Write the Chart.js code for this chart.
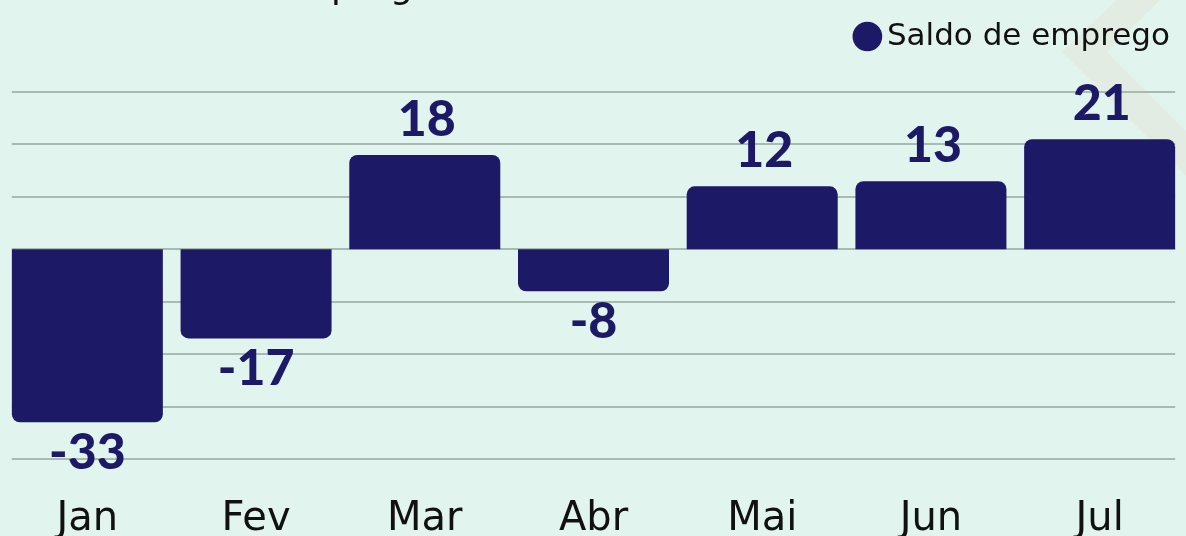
<!DOCTYPE html>
<html>
<head>
<meta charset="utf-8">
<script src="https://cdn.jsdelivr.net/npm/chart.js@4.4.1/dist/chart.umd.min.js"></script>
<style>
  html, body { margin: 0; padding: 0; background: #e1f4ee; }
  #wrap { width: 1186px; height: 536px; position: relative; }
</style>
</head>
<body>
<div id="wrap"><canvas id="c" width="1186" height="536"></canvas></div>
<script>
const categories = ["Jan", "Fev", "Mar", "Abr", "Mai", "Jun", "Jul"];
const saldo = [-33, -17, 18, -8, 12, 13, 21];
const seriesName = "Saldo de emprego";
const titleText = "Saldo de emprego";

const BAR = "#1c1a66";
const BG = "#e1f4ee";
const GRID = "#a9bab2";
const TEXT_FONT = "'DejaVu Sans'";

const bgPlugin = {
  id: "bg",
  beforeDraw(chart) {
    const ctx = chart.ctx;
    ctx.save();
    ctx.fillStyle = BG;
    ctx.fillRect(0, 0, chart.width, chart.height);
    // decorative chevron
    ctx.fillStyle = "#e3ece2";
    ctx.beginPath();
    ctx.moveTo(1117, 0);
    ctx.lineTo(1160, 0);
    ctx.lineTo(1107, 52);
    ctx.lineTo(1186, 131);
    ctx.lineTo(1186, 176);
    ctx.lineTo(1062, 52);
    ctx.closePath();
    ctx.fill();
    // title (cut off at the top)
    ctx.fillStyle = "#111";
    ctx.font = "400 36px " + TEXT_FONT;
    ctx.textBaseline = "alphabetic";
    const pre = ctx.measureText("Saldo de em").width;
    ctx.fillText(titleText, 331 - pre, -2);
    ctx.restore();
  }
};

// extra space between legend and plot area
const legendGap = {
  id: "legendGap",
  beforeInit(chart) {
    const origFit = chart.legend.fit;
    chart.legend.fit = function () {
      origFit.bind(chart.legend)();
      this.height += 30;
    };
  }
};

// horizontal grid lines spanning exactly from first bar edge to last bar edge
const gridPlugin = {
  id: "bargrid",
  beforeDatasetsDraw(chart) {
    const ctx = chart.ctx;
    const meta = chart.getDatasetMeta(0);
    const first = meta.data[0], last = meta.data[meta.data.length - 1];
    const x0 = first.x - first.width / 2;
    const x1 = last.x + last.width / 2;
    const y = chart.scales.y;
    ctx.save();
    ctx.strokeStyle = GRID;
    ctx.lineWidth = 2;
    y.ticks.forEach(t => {
      const py = Math.round(y.getPixelForValue(t.value));
      ctx.beginPath();
      ctx.moveTo(x0, py);
      ctx.lineTo(x1, py);
      ctx.stroke();
    });
    ctx.restore();
  }
};

const labelPlugin = {
  id: "vals",
  afterDatasetsDraw(chart) {
    const ctx = chart.ctx;
    const meta = chart.getDatasetMeta(0);
    ctx.save();
    ctx.fillStyle = BAR;
    ctx.font = "900 50px Lato";
    ctx.textAlign = "center";
    ctx.textBaseline = "alphabetic";
    meta.data.forEach((bar, i) => {
      const v = chart.data.datasets[0].data[i];
      const txt = String(v);
      if (v >= 0) {
        ctx.fillText(txt, bar.x + 2, bar.y - 19);
      } else {
        ctx.fillText(txt, bar.x, bar.y + 47);
      }
    });
    ctx.restore();
  }
};

new Chart(document.getElementById("c"), {
  type: "bar",
  data: {
    labels: categories,
    datasets: [{
      label: seriesName,
      data: saldo,
      backgroundColor: BAR,
      borderRadius: 8,
      borderSkipped: "start",
      barPercentage: 0.895,
      categoryPercentage: 1.0
    }]
  },
  options: {
    responsive: false,
    animation: false,
    devicePixelRatio: 1,
    layout: { padding: { left: 3, right: 2, top: 7, bottom: -37 } },
    plugins: {
      legend: {
        display: true,
        position: "top",
        align: "end",
        labels: {
          usePointStyle: true,
          pointStyle: "circle",
          boxWidth: 8,
          boxHeight: 21,
          color: "#111",
          font: { family: "DejaVu Sans", size: 31, weight: "400" },
          padding: 14
        }
      },
      tooltip: { enabled: false }
    },
    scales: {
      x: {
        grid: { display: false },
        border: { display: false },
        ticks: {
          color: "#111",
          font: { family: "DejaVu Sans", size: 40, weight: "400", lineHeight: 1 },
          padding: 33
        }
      },
      y: {
        min: -40,
        max: 30,
        grid: { display: false, drawTicks: false },
        border: { display: false },
        ticks: { display: false, stepSize: 10 }
      }
    }
  },
  plugins: [bgPlugin, legendGap, gridPlugin, labelPlugin]
});
</script>
</body>
</html>
